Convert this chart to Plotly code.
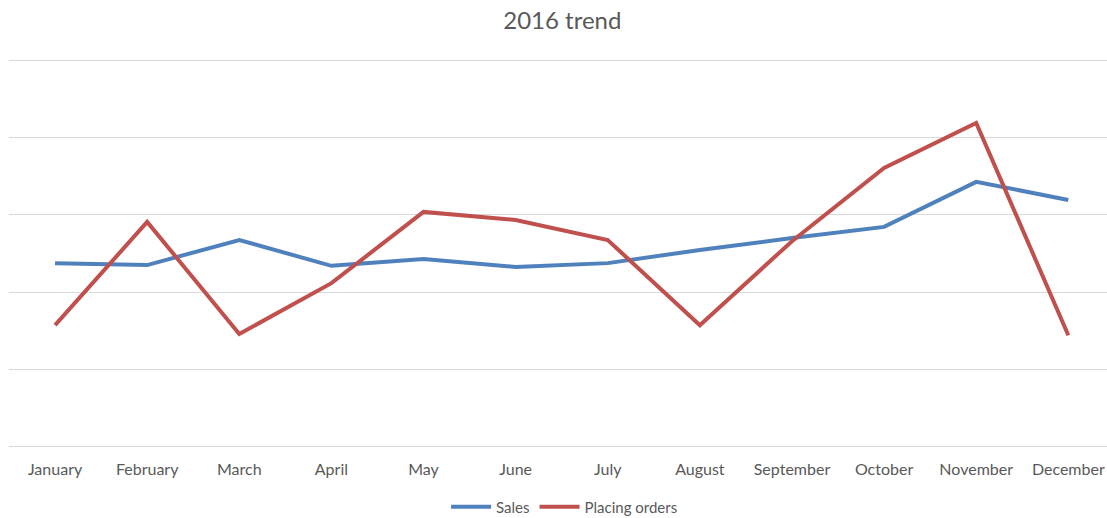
import plotly.graph_objects as go

months = ["January", "February", "March", "April", "May", "June", "July",
          "August", "September", "October", "November", "December"]
sales = [47.5, 47.0, 53.5, 46.8, 48.6, 46.5, 47.5, 50.9, 54.0, 56.9, 68.6, 63.9]
orders = [31.4, 58.2, 29.1, 42.3, 60.8, 58.7, 53.5, 31.4, 53.2, 72.2, 83.9, 28.8]

fig = go.Figure()
fig.add_trace(go.Scatter(x=months, y=sales, mode="lines", name="Sales",
                         line=dict(color="#4f81bd", width=4)))
fig.add_trace(go.Scatter(x=months, y=orders, mode="lines", name="Placing orders",
                         line=dict(color="#c0504d", width=4)))

fig.update_layout(
    width=1107, height=518,
    margin=dict(l=9, r=0, t=57, b=68, autoexpand=False),
    paper_bgcolor="white", plot_bgcolor="white",
    font=dict(family="Lato, Liberation Sans, sans-serif", color="#595959", size=15),
    title=dict(text="2016 trend", x=0.508, xanchor="center",
               y=1 - 21 / 518, yref="container", yanchor="middle",
               font=dict(size=24, color="#595959")),
    showlegend=True,
    legend=dict(orientation="h", x=0.506, xanchor="center",
                y=11 / 518, yref="container", yanchor="middle",
                font=dict(size=15, color="#595959"), itemwidth=40, tracegroupgap=0),
    xaxis=dict(range=[-0.5, 11.42], showgrid=False, showline=False,
               ticks="outside", ticklen=5, tickcolor="rgba(0,0,0,0)",
               automargin=False, tickfont=dict(size=16, color="#595959")),
    yaxis=dict(range=[-1, 101], tickvals=[0, 20, 40, 60, 80, 100],
               showticklabels=False, gridcolor="#d9d9d9",
               gridwidth=1, zeroline=False, automargin=False,
               showline=False, ticks=""),
)

fig.write_html("out.html", config={"displayModeBar": False},
               post_script="document.body.style.margin='0';")
